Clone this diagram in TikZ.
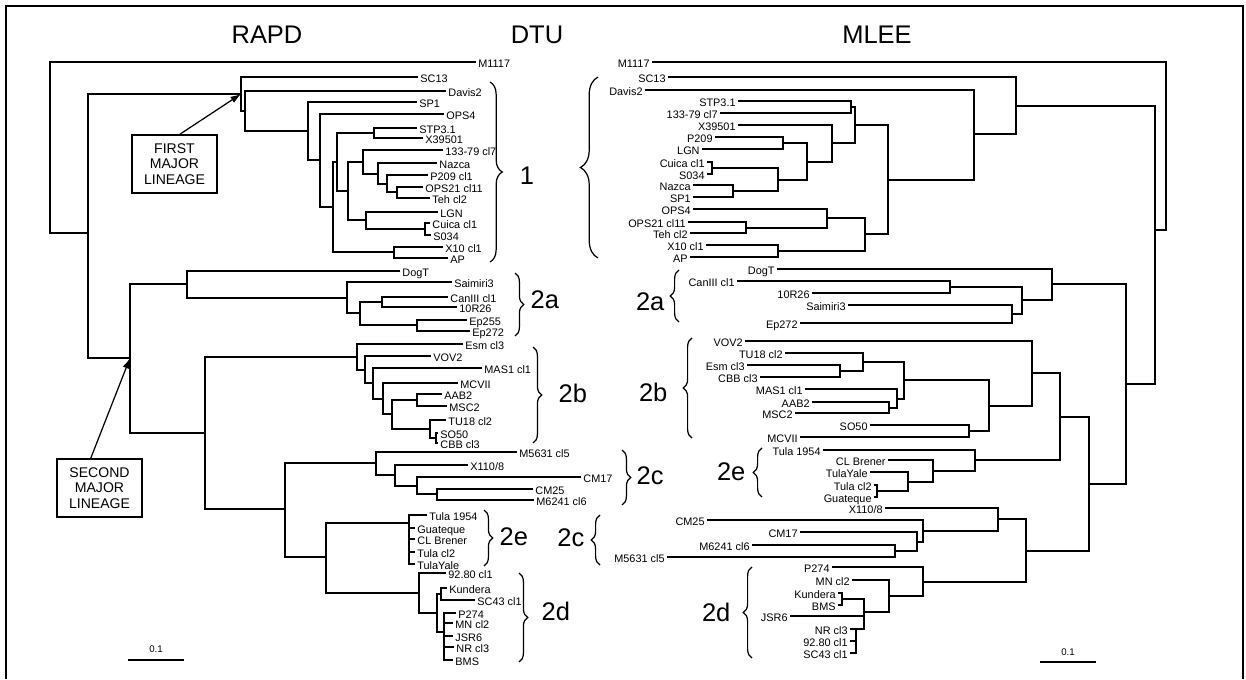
\documentclass[tikz,border=0pt]{standalone}
\usepackage{fontspec}
\setmainfont{Liberation Sans}
\usetikzlibrary{positioning,arrows.meta,decorations.pathreplacing}

\begin{document}
\begin{tikzpicture}[x=0.02cm,y=-0.02cm,line width=0.75pt,
  lleaf/.style={anchor=west,inner sep=1pt,font=\fontsize{6.2}{7}\selectfont,text height=1.4ex,text depth=0.2ex},
  rleaf/.style={lleaf,anchor=east},
  grp/.style={inner sep=0pt,font=\fontsize{14.5}{16}\selectfont},
  ttl/.style={inner sep=0pt,font=\fontsize{14.5}{16}\selectfont},
  lbox/.style={draw,line width=0.8pt,align=center,minimum width=1.7cm,minimum height=1.16cm,inner sep=1pt,font=\fontsize{8}{8.9}\selectfont},
  brc/.style={decorate,decoration={brace,amplitude=#1},line width=0.7pt},
  brc/.default=5pt,
  pointer/.style={-{Latex[length=6pt,width=4pt]},line width=0.7pt}]
  \useasboundingbox (0,0) rectangle (1246,679);
  \draw[line width=1.4pt] (6,679) -- (6,6) -- (1243,6) -- (1243,679);

  % titles
  \node[ttl] (rapd) at (267,35) {RAPD};
  \node[ttl] (dtu) at (537,35) {DTU};
  \node[ttl] (mlee) at (877,35) {MLEE};

  % RAPD, first major lineage
  \coordinate (lRoot) at (50,147);
  \coordinate (lTop) at (88,233);
  \coordinate (lin1) at (241,94);
  \coordinate (nD) at (245,111);
  \coordinate (nA) at (308,131);
  \coordinate (nB) at (320,160);
  \coordinate (nC) at (333,207);
  \coordinate (nE) at (337,162);
  \coordinate (nSt) at (374,133);
  \coordinate (nF) at (348,191);
  \coordinate (n133) at (363,162);
  \coordinate (nNaz) at (378,174);
  \coordinate (nP209) at (387,184);
  \coordinate (nOps21) at (397,192);
  \coordinate (nLgn) at (366,220);
  \coordinate (nCui) at (425,229);
  \coordinate (nX10) at (394,252);

  \node[lleaf] (m1117L) at (476,62) {M1117};
  \node[lleaf] (sc13L) at (418,77) {SC13};
  \node[lleaf] (davis2L) at (446,91) {Davis2};
  \node[lleaf] (sp1L) at (417,102) {SP1};
  \node[lleaf] (ops4L) at (444,114) {OPS4};
  \node[lleaf] (stpL) at (417,128) {STP3.1};
  \node[lleaf] (x39L) at (423,138) {X39501};
  \node[lleaf] (c133L) at (443,150) {133-79 cl7};
  \node[lleaf] (nazcaL) at (437,163) {Nazca};
  \node[lleaf] (p209L) at (428,175) {P209 cl1};
  \node[lleaf] (ops21L) at (423,187) {OPS21 cl11};
  \node[lleaf] (tehL) at (430,198) {Teh cl2};
  \node[lleaf] (lgnL) at (438,212) {LGN};
  \node[lleaf] (cuicaL) at (430,223) {Cuica cl1};
  \node[lleaf] (s034L) at (431,235) {S034};
  \node[lleaf] (x10L) at (443,247) {X10 cl1};
  \node[lleaf] (apL) at (448,258) {AP};

  \draw (m1117L.west) -| (lRoot) |- (lTop);
  \draw (sc13L.west) -| (lin1) |- (nD);
  \draw (davis2L.west) -| (nD) |- (nA);
  \draw (sp1L.west) -| (nA) |- (nB);
  \draw (ops4L.west) -| (nB) |- (nC);
  \draw (nE) -| (nC) |- (nX10);
  \draw (nSt) -| (nE) |- (nF);
  \draw (stpL.west) -| (nSt) |- (x39L.west);
  \draw (n133) -| (nF) |- (nLgn);
  \draw (c133L.west) -| (n133) |- (nNaz);
  \draw (nazcaL.west) -| (nNaz) |- (nP209);
  \draw (p209L.west) -| (nP209) |- (nOps21);
  \draw (ops21L.west) -| (nOps21) |- (tehL.west);
  \draw (lgnL.west) -| (nLgn) |- (nCui);
  \draw (cuicaL.west) -| (nCui) |- (s034L.west);
  \draw (x10L.west) -| (nX10) |- (apL.west);

  % RAPD, second major lineage
  \coordinate (lin2) at (130,358);
  \coordinate (n2a0) at (187,284);
  \coordinate (n2a) at (347,298);
  \coordinate (n2ai) at (360,313);
  \coordinate (nCr) at (382,302);
  \coordinate (nEp) at (417,325);
  \coordinate (n2r) at (205,433);
  \coordinate (nB1) at (357,357);
  \coordinate (nB2) at (365,370);
  \coordinate (nB3) at (373,383);
  \coordinate (nB4) at (383,399);
  \coordinate (nB5) at (392,414);
  \coordinate (nB6) at (417,400);
  \coordinate (nB7) at (430,429);
  \coordinate (nB8) at (436,438);
  \coordinate (nCde) at (285,509);
  \coordinate (nC1) at (376,463);
  \coordinate (nC2) at (395,475);
  \coordinate (nC3) at (417,486);
  \coordinate (nC4) at (437,494);
  \coordinate (nEd) at (326,557);
  \coordinate (nE2) at (409,523);
  \coordinate (nD1) at (419,593);
  \coordinate (nD2) at (437,613);
  \coordinate (nKun) at (441,594);
  \coordinate (nP274) at (444,632);

  \node[lleaf] (dogtL) at (400,271) {DogT};
  \node[lleaf] (saimiriL) at (452,282) {Saimiri3};
  \node[lleaf] (caniiiL) at (448,297) {CanIII cl1};
  \node[lleaf] (r10L) at (457,307) {10R26};
  \node[lleaf] (ep255L) at (467,320) {Ep255};
  \node[lleaf] (ep272L) at (470,331) {Ep272};
  \node[lleaf] (esmL) at (463,344) {Esm cl3};
  \node[lleaf] (vov2L) at (431,356) {VOV2};
  \node[lleaf] (mas1L) at (482,368) {MAS1 cl1};
  \node[lleaf] (mcviiL) at (458,383) {MCVII};
  \node[lleaf] (aab2L) at (442,394) {AAB2};
  \node[lleaf] (msc2L) at (447,406) {MSC2};
  \node[lleaf] (tu18L) at (446,420) {TU18 cl2};
  \node[lleaf] (so50L) at (438,433) {SO50};
  \node[lleaf] (cbbL) at (438,443) {CBB cl3};
  \node[lleaf] (m5631L) at (517,452) {M5631 cl5};
  \node[lleaf] (x110L) at (468,465) {X110/8};
  \node[lleaf] (cm17L) at (581,477) {CM17};
  \node[lleaf] (cm25L) at (533,489) {CM25};
  \node[lleaf] (m6241L) at (534,500) {M6241 cl6};
  \node[lleaf] (tula54L) at (427,515) {Tula 1954};
  \node[lleaf] (guatL) at (415,528) {Guateque};
  \node[lleaf] (clbL) at (415,539) {CL Brener};
  \node[lleaf] (tula2L) at (415,552) {Tula cl2};
  \node[lleaf] (tyaleL) at (415,564) {TulaYale};
  \node[lleaf] (n9280L) at (446,573) {92.80 cl1};
  \node[lleaf] (kunderaL) at (447,588) {Kundera};
  \node[lleaf] (sc43L) at (475,600) {SC43 cl1};
  \node[lleaf] (p274L) at (456,613) {P274};
  \node[lleaf] (mn2L) at (453,623) {MN cl2};
  \node[lleaf] (jsr6L) at (453,636) {JSR6};
  \node[lleaf] (nr3L) at (454,647) {NR cl3};
  \node[lleaf] (bmsL) at (453,660) {BMS};

  \draw (lin1) -| (lTop) |- (lin2);
  \draw (n2a0) -| (lin2) |- (n2r);
  \draw (dogtL.west) -| (n2a0) |- (n2a);
  \draw (saimiriL.west) -| (n2a) |- (n2ai);
  \draw (nCr) -| (n2ai) |- (nEp);
  \draw (caniiiL.west) -| (nCr) |- (r10L.west);
  \draw (ep255L.west) -| (nEp) |- (ep272L.west);
  \draw (nB1) -| (n2r) |- (nCde);
  \draw (esmL.west) -| (nB1) |- (nB2);
  \draw (vov2L.west) -| (nB2) |- (nB3);
  \draw (mas1L.west) -| (nB3) |- (nB4);
  \draw (mcviiL.west) -| (nB4) |- (nB5);
  \draw (nB6) -| (nB5) |- (nB7);
  \draw (aab2L.west) -| (nB6) |- (msc2L.west);
  \draw (tu18L.west) -| (nB7) |- (nB8);
  \draw (so50L.west) -| (nB8) |- (cbbL.west);
  \draw (nC1) -| (nCde) |- (nEd);
  \draw (m5631L.west) -| (nC1) |- (nC2);
  \draw (x110L.west) -| (nC2) |- (nC3);
  \draw (cm17L.west) -| (nC3) |- (nC4);
  \draw (cm25L.west) -| (nC4) |- (m6241L.west);
  \draw (nE2) -| (nEd) |- (nD1);
  \foreach \n in {tula54L,guatL,clbL,tula2L,tyaleL}
    \draw (nE2) |- (\n.west);
  \draw (n9280L.west) -| (nD1) |- (nD2);
  \draw (nKun) -| (nD2) |- (nP274);
  \draw (kunderaL.west) -| (nKun) |- (sc43L.west);
  \foreach \n in {p274L,mn2L,jsr6L,nr3L,bmsL}
    \draw (nP274) |- (\n.west);

  % lineage boxes
  \node[lbox] (first) at (174.5,164) {FIRST\\MAJOR\\LINEAGE};
  \node[lbox] (second) at (99.5,488) {SECOND\\MAJOR\\LINEAGE};
  \draw[pointer] ([xshift=3pt]first.north) -- (lin1);
  \draw[pointer] ([xshift=-5pt]second.north) -- (lin2);

  % MLEE
  \coordinate (rRoot) at (1166,146);
  \coordinate (rBig) at (1155,230);
  \coordinate (rSc) at (1016,106);
  \coordinate (rD) at (974,134);
  \coordinate (r1t) at (888,180);
  \coordinate (rA) at (855,125);
  \coordinate (rStp) at (851,107);
  \coordinate (rX39) at (832,143);
  \coordinate (rP) at (807,162);
  \coordinate (rPl) at (783,143);
  \coordinate (rCn) at (778,180);
  \coordinate (rCs) at (712,168);
  \coordinate (rNs) at (733,191);
  \coordinate (rOps) at (865,234);
  \coordinate (rO4) at (827,218);
  \coordinate (rOt) at (746,228);
  \coordinate (rXa) at (778,251);
  \coordinate (r2) at (1126,384);
  \coordinate (r2a) at (1052,284);
  \coordinate (r2ai) at (1022,300);
  \coordinate (rC10) at (950,287);
  \coordinate (rSe) at (1012,314);
  \coordinate (r2r) at (1089,484);
  \coordinate (rBe) at (1060,417);
  \coordinate (rB) at (1032,373);
  \coordinate (rMs) at (989,406);
  \coordinate (rTm) at (904,380);
  \coordinate (rTec) at (863,362);
  \coordinate (rEc) at (840,371);
  \coordinate (rMam) at (897,399);
  \coordinate (rAm) at (889,408);
  \coordinate (rSm) at (969,431);
  \coordinate (rE) at (975,460);
  \coordinate (rCt) at (933,471);
  \coordinate (rTy) at (908,482);
  \coordinate (rTg) at (877,491);
  \coordinate (rCd) at (1026,551);
  \coordinate (rXc) at (998,519);
  \coordinate (rC2) at (923,531);
  \coordinate (rC17) at (917,542);
  \coordinate (rMm) at (895,551);
  \coordinate (rDd) at (923,582);
  \coordinate (rMk) at (889,596);
  \coordinate (rKj) at (864,612);
  \coordinate (rKb) at (842,599);
  \coordinate (rNr) at (856,629);

  \node[rleaf] (m1117R) at (652,62) {M1117};
  \node[rleaf] (sc13R) at (668,77) {SC13};
  \node[rleaf] (davis2R) at (645,90) {Davis2};
  \node[rleaf] (stpR) at (738,101) {STP3.1};
  \node[rleaf] (c133R) at (720,113) {133-79 cl7};
  \node[rleaf] (x39R) at (738,125) {X39501};
  \node[rleaf] (p209R) at (715,137) {P209};
  \node[rleaf] (lgnR) at (702,149) {LGN};
  \node[rleaf] (cuicaR) at (707,162) {Cuica cl1};
  \node[rleaf] (s034R) at (707,174) {S034};
  \node[rleaf] (nazcaR) at (693,185) {Nazca};
  \node[rleaf] (sp1R) at (693,197) {SP1};
  \node[rleaf] (ops4R) at (693,209) {OPS4};
  \node[rleaf] (ops21R) at (688,222) {OPS21 cl11};
  \node[rleaf] (tehR) at (690,233) {Teh cl2};
  \node[rleaf] (x10R) at (706,245) {X10 cl1};
  \node[rleaf] (apR) at (690,257) {AP};
  \node[rleaf] (dogtR) at (777,269) {DogT};
  \node[rleaf] (caniiiR) at (737,281) {CanIII cl1};
  \node[rleaf] (r10R) at (812,293) {10R26};
  \node[rleaf] (saimiriR) at (848,305) {Saimiri3};
  \node[rleaf] (ep272R) at (800,323) {Ep272};
  \node[rleaf] (vov2R) at (745,341) {VOV2};
  \node[rleaf] (tu18R) at (785,353) {TU18 cl2};
  \node[rleaf] (esmR) at (747,365) {Esm cl3};
  \node[rleaf] (cbbR) at (760,377) {CBB cl3};
  \node[rleaf] (mas1R) at (805,389) {MAS1 cl1};
  \node[rleaf] (aab2R) at (812,402) {AAB2};
  \node[rleaf] (msc2R) at (795,413) {MSC2};
  \node[rleaf] (so50R) at (870,425) {SO50};
  \node[rleaf] (mcviiR) at (800,437) {MCVII};
  \node[rleaf] (tula54R) at (823,450) {Tula 1954};
  \node[rleaf] (clbR) at (888,460) {CL Brener};
  \node[rleaf] (tyaleR) at (870,472) {TulaYale};
  \node[rleaf] (tula2R) at (874,485) {Tula cl2};
  \node[rleaf] (guatR) at (874,497) {Guateque};
  \node[rleaf] (x110R) at (885,508) {X110/8};
  \node[rleaf] (cm25R) at (707,520) {CM25};
  \node[rleaf] (cm17R) at (800,532) {CM17};
  \node[rleaf] (m6241R) at (752,545) {M6241 cl6};
  \node[rleaf] (m5631R) at (667,557) {M5631 cl5};
  \node[rleaf] (p274R) at (832,567) {P274};
  \node[rleaf] (mn2R) at (852,580) {MN cl2};
  \node[rleaf] (kunderaR) at (838,593) {Kundera};
  \node[rleaf] (bmsR) at (838,605) {BMS};
  \node[rleaf] (jsr6R) at (790,616) {JSR6};
  \node[rleaf] (nr3R) at (850,629) {NR cl3};
  \node[rleaf] (n9280R) at (850,641) {92.80 cl1};
  \node[rleaf] (sc43R) at (850,653) {SC43 cl1};

  \draw (m1117R.east) -| (rRoot) |- (rBig);
  \draw (rSc) -| (rBig) |- (r2);
  \draw (sc13R.east) -| (rSc) |- (rD);
  \draw (davis2R.east) -| (rD) |- (r1t);
  \draw (rA) -| (r1t) |- (rOps);
  \draw (rStp) -| (rA) |- (rX39);
  \draw (stpR.east) -| (rStp) |- (c133R.east);
  \draw (x39R.east) -| (rX39) |- (rP);
  \draw (rPl) -| (rP) |- (rCn);
  \draw (p209R.east) -| (rPl) |- (lgnR.east);
  \draw (rCs) -| (rCn) |- (rNs);
  \draw (cuicaR.east) -| (rCs) |- (s034R.east);
  \draw (nazcaR.east) -| (rNs) |- (sp1R.east);
  \draw (rO4) -| (rOps) |- (rXa);
  \draw (ops4R.east) -| (rO4) |- (rOt);
  \draw (ops21R.east) -| (rOt) |- (tehR.east);
  \draw (x10R.east) -| (rXa) |- (apR.east);
  \draw (r2a) -| (r2) |- (r2r);
  \draw (dogtR.east) -| (r2a) |- (r2ai);
  \draw (rC10) -| (r2ai) |- (rSe);
  \draw (caniiiR.east) -| (rC10) |- (r10R.east);
  \draw (saimiriR.east) -| (rSe) |- (ep272R.east);
  \draw (rBe) -| (r2r) |- (rCd);
  \draw (rB) -| (rBe) |- (rE);
  \draw (vov2R.east) -| (rB) |- (rMs);
  \draw (rTm) -| (rMs) |- (rSm);
  \draw (rTec) -| (rTm) |- (rMam);
  \draw (tu18R.east) -| (rTec) |- (rEc);
  \draw (esmR.east) -| (rEc) |- (cbbR.east);
  \draw (mas1R.east) -| (rMam) |- (rAm);
  \draw (aab2R.east) -| (rAm) |- (msc2R.east);
  \draw (so50R.east) -| (rSm) |- (mcviiR.east);
  \draw (tula54R.east) -| (rE) |- (rCt);
  \draw (clbR.east) -| (rCt) |- (rTy);
  \draw (tyaleR.east) -| (rTy) |- (rTg);
  \draw (tula2R.east) -| (rTg) |- (guatR.east);
  \draw (rXc) -| (rCd) |- (rDd);
  \draw (x110R.east) -| (rXc) |- (rC2);
  \draw (cm25R.east) -| (rC2) |- (rC17);
  \draw (cm17R.east) -| (rC17) |- (rMm);
  \draw (m6241R.east) -| (rMm) |- (m5631R.east);
  \draw (p274R.east) -| (rDd) |- (rMk);
  \draw (mn2R.east) -| (rMk) |- (rKj);
  \draw (rKb) -| (rKj) |- (rNr);
  \draw (jsr6R.east) -- (jsr6R.east -| rKj);
  \draw (kunderaR.east) -| (rKb) |- (bmsR.east);
  \foreach \n in {nr3R,n9280R,sc43R}
    \draw (rNr) |- (\n.east);

  % DTU braces
  \draw[brc=7pt] (490,82) -- (490,262);
  \node[grp] (g1) at (527,176) {1};
  \draw[brc=10pt] (598,258) -- (598,77);
  \draw[brc] (515,273) -- (515,336);
  \node[grp,anchor=west] (g2aL) at (530,300) {2a};
  \draw[brc] (533,347) -- (533,443);
  \node[grp,anchor=west] (g2bL) at (558,393) {2b};
  \draw[brc] (622,450) -- (622,505);
  \node[grp,anchor=west] (g2cL) at (636,476) {2c};
  \draw[brc] (484,510) -- (484,566);
  \node[grp,anchor=west] (g2eL) at (499,537) {2e};
  \draw[brc] (519,573) -- (519,662);
  \node[grp,anchor=west] (g2dL) at (541,611) {2d};
  \draw[brc] (679,322) -- (679,270);
  \node[grp,anchor=east] (g2aR) at (665,302) {2a};
  \draw[brc] (692,438) -- (692,338);
  \node[grp,anchor=east] (g2bR) at (668,392) {2b};
  \draw[brc] (762,497) -- (762,448);
  \node[grp,anchor=east] (g2eR) at (746,472) {2e};
  \draw[brc] (600,565) -- (600,515);
  \node[grp,anchor=east] (g2cR) at (585,538) {2c};
  \draw[brc] (752,658) -- (752,567);
  \node[grp,anchor=east] (g2dR) at (731,612) {2d};

  % scale bars
  \draw (128,660) -- (184,660);
  \node[font=\fontsize{5.5}{6}\selectfont] (sbL) at (156,649) {0.1};
  \draw (1040,662) -- (1096,662);
  \node[font=\fontsize{5.5}{6}\selectfont] (sbR) at (1068,652) {0.1};
\end{tikzpicture}
\end{document}
